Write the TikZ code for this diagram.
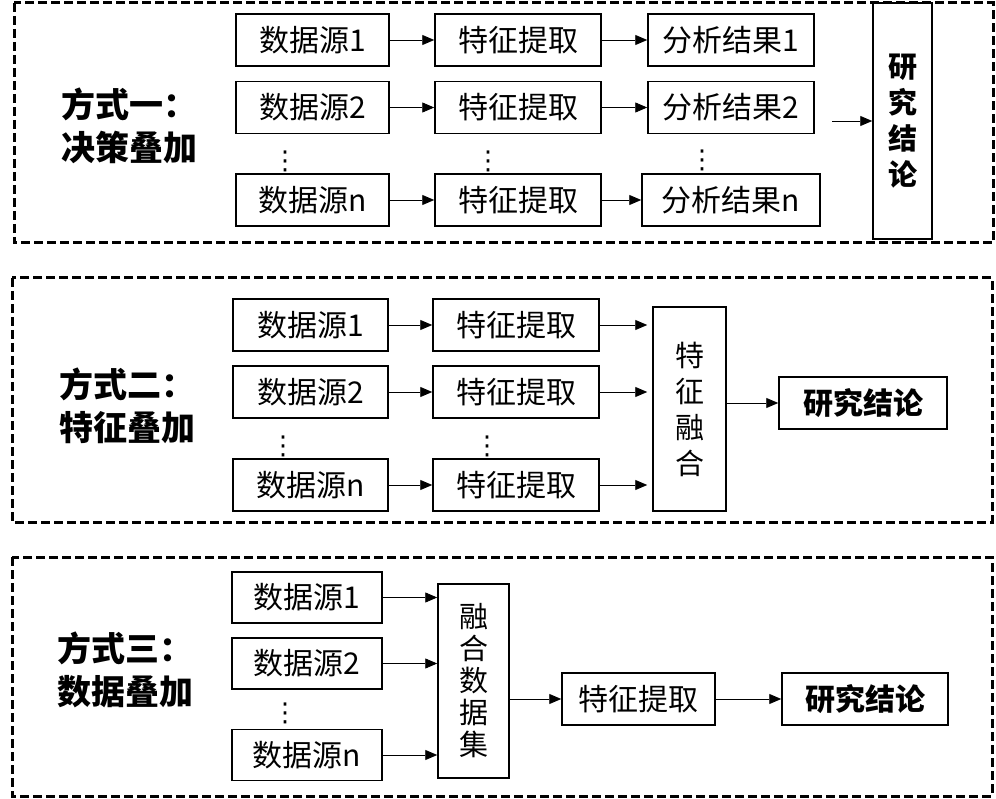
\documentclass[tikz,border=0pt]{standalone}
\usepackage{fontspec}
\setmainfont{Noto Sans CJK SC}
\newfontfamily\symfont{DejaVu Sans}
\usetikzlibrary{arrows.meta}
\begin{document}
\begin{tikzpicture}[x=1pt,y=-1pt,
 bx/.style={draw,line width=1.5pt,inner sep=0pt,minimum height=52pt,font=\fontsize{30}{32}\selectfont},
 vb/.style={draw,line width=1.5pt,inner sep=0pt,align=center,font=\fontsize{29}{36}\selectfont},
 ar/.style={-{Triangle[length=12pt,width=10pt]},line width=0.9pt},
 fr/.style={line width=3pt,dash pattern=on 9pt off 4pt},
 lb/.style={anchor=west,align=left,font=\bfseries\fontsize{34}{43}\selectfont},
 dt/.style={inner sep=0pt,font=\symfont\fontsize{26}{26}\selectfont}]
\useasboundingbox (0,0) rectangle (996,799);
\draw[fr] (14,3) rectangle (993,243); \draw[fr] (12,278) rectangle (992,522); \draw[fr] (12,557) rectangle (992,796);
\node[lb] (L1) at (58,126) {方式一：\\决策叠加};
\node[bx,minimum width=153pt] (A1) at (312.5,40) {数据源1};
\node[bx,minimum width=153pt] (A2) at (312.5,107.5) {数据源2};
\node[bx,minimum width=153pt] (An) at (312.5,200) {数据源n};
\node[bx,minimum width=166pt] (B1) at (518,40) {特征提取};
\node[bx,minimum width=166pt] (B2) at (518,107.5) {特征提取};
\node[bx,minimum width=166pt] (Bn) at (518,200) {特征提取};
\node[bx,minimum width=166pt] (C1) at (731,40) {分析结果1};
\node[bx,minimum width=166pt] (C2) at (731,107.5) {分析结果2};
\node[bx,minimum width=178pt] (Cn) at (731,200) {分析结果n};
\node[vb,minimum width=59pt,minimum height=236pt,font=\bfseries\fontsize{29}{36}\selectfont] (D) at (902.5,121) {研\\究\\结\\论};
\node[dt] (d1) at (285,161) {⋮}; \node[dt] (d2) at (488,161) {⋮}; \node[dt] (d3) at (702,160) {⋮};
\coordinate (k) at (832,121);
\draw[ar] (A1) -- (B1); \draw[ar] (A2) -- (B2); \draw[ar] (An) -- (Bn);
\draw[ar] (B1) -- (C1); \draw[ar] (B2) -- (C2); \draw[ar] (Bn) -- (Cn);
\draw[ar] (k) -- (D);
\node[lb] (L2) at (56,406) {方式二：\\特征叠加};
\node[bx,minimum width=155pt] (E1) at (310.5,325) {数据源1};
\node[bx,minimum width=155pt] (E2) at (310.5,392) {数据源2};
\node[bx,minimum width=155pt] (En) at (310.5,485) {数据源n};
\node[bx,minimum width=166pt] (F1) at (516,325) {特征提取};
\node[bx,minimum width=166pt] (F2) at (516,392) {特征提取};
\node[bx,minimum width=166pt] (Fn) at (516,485) {特征提取};
\node[vb,minimum width=73pt,minimum height=204pt] (G) at (689.5,409) {特\\征\\融\\合};
\node[bx,minimum width=168pt,font=\bfseries\fontsize{30}{32}\selectfont] (H) at (863,403) {研究结论};
\node[dt] (d4) at (283,446) {⋮}; \node[dt] (d5) at (487,446) {⋮};
\draw[ar] (E1) -- (F1); \draw[ar] (E2) -- (F2); \draw[ar] (En) -- (Fn);
\draw[ar] (F1) -- ([xshift=-5pt]F1 -| G.west); \draw[ar] (F2) -- ([xshift=-5pt]F2 -| G.west); \draw[ar] (Fn) -- ([xshift=-5pt]Fn -| G.west);
\draw[ar] (G.east |- H) -- (H);
\node[lb] (L3) at (54,670) {方式三：\\数据叠加};
\node[bx,minimum width=150pt,minimum height=51pt] (I1) at (307,597.5) {数据源1};
\node[bx,minimum width=150pt,minimum height=51pt] (I2) at (307,663.5) {数据源2};
\node[bx,minimum width=150pt,minimum height=51pt] (In) at (307,755) {数据源n};
\node[vb,minimum width=71pt,minimum height=194pt,font=\fontsize{29}{32}\selectfont] (J) at (473.5,681) {融\\合\\数\\据\\集};
\node[bx,minimum width=153pt] (K) at (638.5,699) {特征提取};
\node[bx,minimum width=166pt,font=\bfseries\fontsize{30}{32}\selectfont] (M) at (865,699) {研究结论};
\node[dt] (d6) at (285,713) {⋮};
\draw[ar] (I1) -- (I1 -| J.west); \draw[ar] (I2) -- (I2 -| J.west); \draw[ar] (In) -- (In -| J.west);
\draw[ar] (J.east |- K) -- (K); \draw[ar] (K) -- (M);
\end{tikzpicture}
\end{document}
